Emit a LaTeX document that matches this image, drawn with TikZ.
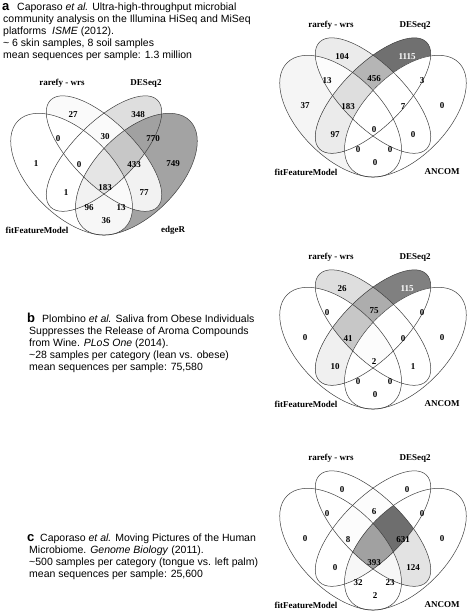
\documentclass[tikz,border=0pt]{standalone}
\usepackage{fontspec}
\setmainfont{Liberation Serif}
\newfontfamily\sansfam{Liberation Sans}
% ellipse paths in unit coordinates (origin = Venn centre, y up)
\newcommand\pathA[1]{\path[#1,shift={(-0.15,-0.03)},rotate=-45] (0,0) ellipse (0.35 and 0.2);}
\newcommand\pathB[1]{\path[#1,shift={(0,0.07)},rotate=-45] (0,0) ellipse (0.35 and 0.15);}
\newcommand\pathC[1]{\path[#1,shift={(0,0.07)},rotate=45] (0,0) ellipse (0.35 and 0.15);}
\newcommand\pathD[1]{\path[#1,shift={(0.15,-0.03)},rotate=45] (0,0) ellipse (0.35 and 0.2);}
\newcommand\vregion[2]{\begin{scope}#1\fill[#2] (-1,-1) rectangle (1,1);\end{scope}}
\newcommand\vennfills{%
 \vregion{\pathA{clip}}{\cA}%
 \vregion{\pathB{clip}}{\cB}%
 \vregion{\pathC{clip}}{\cC}%
 \vregion{\pathD{clip}}{\cD}%
 \vregion{\pathA{clip}\pathB{clip}}{\cAB}%
 \vregion{\pathA{clip}\pathC{clip}}{\cAC}%
 \vregion{\pathA{clip}\pathD{clip}}{\cAD}%
 \vregion{\pathB{clip}\pathC{clip}}{\cBC}%
 \vregion{\pathB{clip}\pathD{clip}}{\cBD}%
 \vregion{\pathC{clip}\pathD{clip}}{\cCD}%
 \vregion{\pathA{clip}\pathB{clip}\pathC{clip}}{\cABC}%
 \vregion{\pathA{clip}\pathB{clip}\pathD{clip}}{\cABD}%
 \vregion{\pathA{clip}\pathC{clip}\pathD{clip}}{\cACD}%
 \vregion{\pathB{clip}\pathC{clip}\pathD{clip}}{\cBCD}%
 \vregion{\pathA{clip}\pathB{clip}\pathC{clip}\pathD{clip}}{\cABCD}%
 \pathA{vline}\pathB{vline}\pathC{vline}\pathD{vline}}
% numbers: prefix, A B C D AB BC CD ABC
\newcommand\vnumsa[9]{%
 \node[num] (#1-A) at (-68,-4) {#2};
 \node[num] (#1-B) at (-31,-53) {#3};
 \node[num] (#1-C) at (34,-53) {#4};
 \node[num] (#1-D) at (69,-4) {#5};
 \node[num] (#1-AB) at (-46,-29) {#6};
 \node[num] (#1-BC) at (1,-31) {#7};
 \node[num] (#1-CD) at (49,-29) {#8};
 \node[num] (#1-ABC) at (-25,-3) {#9};}
% prefix, BCD AC ABCD BD ACD ABD AD
\newcommand\vnumsb[8]{%
 \node[num] (#1-BCD) at (30,-3) {#2};
 \node[num] (#1-AC) at (-38,25) {#3};
 \node[num] (#1-ABCD) at (1,20) {#4};
 \node[num] (#1-BD) at (40,25) {#5};
 \node[num] (#1-ACD) at (-15,40) {#6};
 \node[num] (#1-ABD) at (17,40) {#7};
 \node[num] (#1-AD) at (2,53) {#8};}
\newcommand\vcats[3]{%
 \node[cat] (#1-tl) at (-42,-85) {rarefy - wrs};
 \node[cat] (#1-tr) at (42,-85) {DESeq2};
 \node[cat] (#1-bl) at (-67,62) {#2};
 \node[cat] (#1-br) at (69,62) {#3};}
\begin{document}
\begin{tikzpicture}[x=1pt,y=-1pt,
  num/.style={font=\fontsize{9}{9}\selectfont\bfseries, inner sep=0pt},
  cat/.style={font=\fontsize{9}{9}\selectfont\bfseries, inner sep=0pt},
  desc/.style={font=\sansfam\fontsize{10.5}{12}\selectfont, anchor=base west, inner sep=0pt},
  plet/.style={font=\sansfam\fontsize{13}{12}\selectfont\bfseries, anchor=base west, inner sep=0pt},
  vline/.style={draw=black!75, line width=0.5pt},
  vunit/.style={x={(216pt,0pt)}, y={(0pt,206pt)}}]
\useasboundingbox (0,0) rectangle (472,615);
\fill[white] (0,0) rectangle (472,615);

% ---------------- texts
\node[plet] (la) at (2,10.5) {a};
\node[desc] (a1) at (17,10.5) {Caporaso \textit{et al.} Ultra-high-throughput microbial};
\node[desc] (a2) at (3,22.5) {community analysis on the Illumina HiSeq and MiSeq};
\node[desc] (a3) at (3,34.5) {platforms \ \textit{ISME} (2012).};
\node[desc] (a4) at (3,46.5) {\textasciitilde\ 6 skin samples, 8 soil samples};
\node[desc] (a5) at (3,58.5) {mean sequences per sample: 1.3 million};

\node[plet] (lb) at (27,322) {b};
\node[desc] (b1) at (42,322) {Plombino \textit{et al.} Saliva from Obese Individuals};
\node[desc] (b2) at (29,334) {Suppresses the Release of Aroma Compounds};
\node[desc] (b3) at (29,346) {from Wine. \textit{PLoS One} (2014).};
\node[desc] (b4) at (29,358) {\textasciitilde28 samples per category (lean vs. obese)};
\node[desc] (b5) at (29,370) {mean sequences per sample: 75,580};

\node[plet] (lc) at (27,541.5) {c};
\node[desc] (c1) at (40,541.5) {Caporaso \textit{et al.} Moving Pictures of the Human};
\node[desc] (c2) at (29,553.5) {Microbiome. \textit{Genome Biology} (2011).};
\node[desc] (c3) at (29,565.5) {\textasciitilde500 samples per category (tongue vs. left palm)};
\node[desc] (c4) at (29,577.5) {mean sequences per sample: 25,600};

% ---------------- Venn a-left
\begin{scope}[shift={(104,168)}]
 \begin{scope}[vunit]
  \def\cA{white}\def\cB{black!2}\def\cC{black!13}\def\cD{black!36}
  \def\cAB{white}\def\cAC{white}\def\cAD{black!3}\def\cBC{black!2}
  \def\cBD{black!5}\def\cCD{black!37}\def\cABC{white}\def\cABD{black!2}
  \def\cACD{black!5}\def\cBCD{black!22}\def\cABCD{black!10}
  \vennfills
 \end{scope}
 \vnumsa{v1}{1}{27}{348}{749}{0}{30}{770}{0}
 \vnumsb{v1}{433}{1}{183}{77}{96}{13}{36}
 \vcats{v1}{fitFeatureModel}{edgeR}
\end{scope}

% ---------------- Venn a-right
\begin{scope}[shift={(373,110)}]
 \begin{scope}[vunit]
  \def\cA{black!4}\def\cB{black!8}\def\cC{black!56}\def\cD{white}
  \def\cAB{black!1}\def\cAC{black!8}\def\cAD{white}\def\cBC{black!29}
  \def\cBD{white}\def\cCD{white}\def\cABC{black!13}\def\cABD{white}
  \def\cACD{white}\def\cBCD{white}\def\cABCD{white}
  \vennfills
 \end{scope}
 \vnumsa{v2}{37}{104}{\textcolor{white}{1115}}{0}{13}{456}{3}{183}
 \vnumsb{v2}{7}{97}{0}{0}{0}{0}{0}
 \vcats{v2}{fitFeatureModel}{ANCOM}
\end{scope}

% ---------------- Venn b
\begin{scope}[shift={(373,342)}]
 \begin{scope}[vunit]
  \def\cA{white}\def\cB{black!13}\def\cC{black!50}\def\cD{white}
  \def\cAB{white}\def\cAC{black!6}\def\cAD{white}\def\cBC{black!32}
  \def\cBD{white}\def\cCD{white}\def\cABC{black!22}\def\cABD{white}
  \def\cACD{white}\def\cBCD{white}\def\cABCD{black!1}
  \vennfills
 \end{scope}
 \vnumsa{v3}{0}{26}{\textcolor{white}{115}}{0}{0}{75}{0}{41}
 \vnumsb{v3}{0}{10}{2}{1}{0}{0}{0}
 \vcats{v3}{fitFeatureModel}{ANCOM}
\end{scope}

% ---------------- Venn c
\begin{scope}[shift={(373,543)}]
 \begin{scope}[vunit]
  \def\cA{white}\def\cB{white}\def\cC{white}\def\cD{white}
  \def\cAB{white}\def\cAC{white}\def\cAD{white}\def\cBC{black!1}
  \def\cBD{black!11}\def\cCD{white}\def\cABC{black!1}\def\cABD{black!3}
  \def\cACD{black!3}\def\cBCD{black!57}\def\cABCD{black!37}
  \vennfills
 \end{scope}
 \vnumsa{v4}{0}{0}{0}{0}{0}{6}{0}{8}
 \vnumsb{v4}{631}{0}{393}{124}{32}{23}{2}
 \vcats{v4}{fitFeatureModel}{ANCOM}
\end{scope}
\end{tikzpicture}
\end{document}
